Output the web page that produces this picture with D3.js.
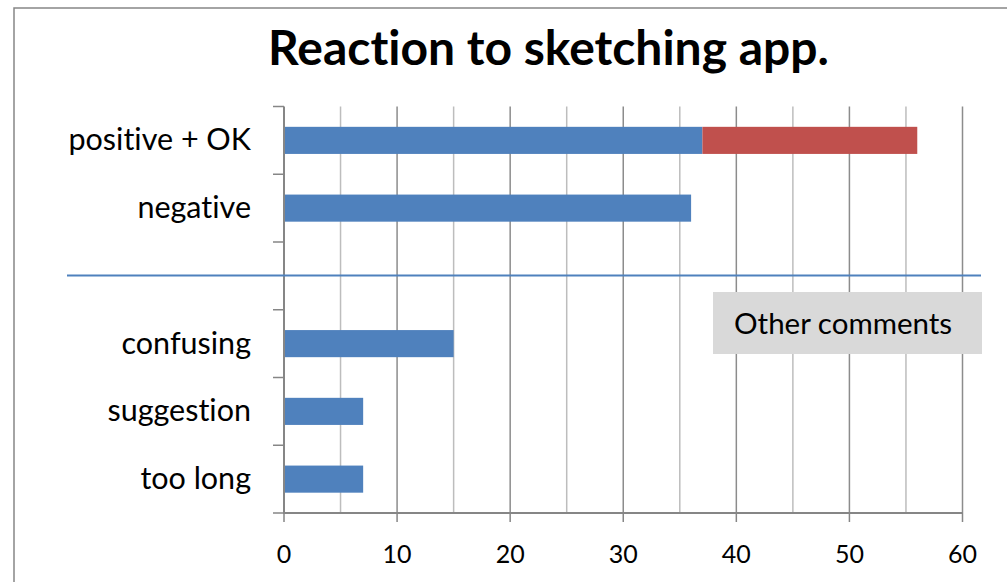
<!DOCTYPE html>
<html>
<head>
<meta charset="utf-8">
<script src="https://cdn.jsdelivr.net/npm/d3@7"></script>
<style>
  html, body { margin: 0; padding: 0; background: #fff; }
  svg { display: block; }
  text { font-family: Lato, "Open Sans", sans-serif; fill: #000; font-variant-ligatures: none; font-feature-settings: "liga" 0, "clig" 0; }
</style>
</head>
<body>
<svg id="chart" width="1007" height="582"></svg>
<script>
const title = "Reaction to sketching app.";
const categories = ["positive + OK", "negative", "", "confusing", "suggestion", "too long"];
const seriesBlue = [37, 36, 0, 15, 7, 7];
const seriesRed = [19, 0, 0, 0, 0, 0];
const xTicks = [0, 10, 20, 30, 40, 50, 60];
const gridValues = [5, 10, 15, 20, 25, 30, 35, 40, 45, 50, 55, 60];
const annotation = "Other comments";

const svg = d3.select("#chart");
const m = { left: 284, right: 962.5, top: 106.5, bottom: 513 };

// outer frame
svg.append("rect").attr("x", 14).attr("y", 8).attr("width", 1020).attr("height", 600)
  .attr("fill", "#fff").attr("stroke", "#868686").attr("stroke-width", 1.5);

const x = d3.scaleLinear().domain([0, 60]).range([m.left, m.right]);
const y = d3.scaleBand().domain(categories.map((c, i) => i)).range([m.top, m.bottom]);

// gridlines
svg.append("g").selectAll("line").data(gridValues).join("line")
  .attr("x1", d => x(d)).attr("x2", d => x(d))
  .attr("y1", m.top).attr("y2", m.bottom)
  .attr("stroke", d => d % 10 === 0 ? "#8c8c8c" : "#bdbdbd")
  .attr("stroke-width", 1.5);

// bars
const barH = y.bandwidth() * 0.4;
const bars = svg.append("g");
bars.selectAll("rect.blue").data(seriesBlue).join("rect").attr("class", "blue")
  .attr("x", x(0)).attr("y", (d, i) => y(i) + (y.bandwidth() - barH) / 2)
  .attr("width", d => x(d) - x(0)).attr("height", barH)
  .attr("fill", "#4f81bd");
bars.selectAll("rect.red").data(seriesRed).join("rect").attr("class", "red")
  .attr("x", (d, i) => x(seriesBlue[i])).attr("y", (d, i) => y(i) + (y.bandwidth() - barH) / 2)
  .attr("width", (d, i) => x(seriesBlue[i] + d) - x(seriesBlue[i])).attr("height", barH)
  .attr("fill", "#c0504d");

// y axis
const yTickPos = d3.range(categories.length + 1).map(i => m.top + i * y.step());
const ya = svg.append("g");
ya.append("line").attr("x1", m.left).attr("x2", m.left).attr("y1", m.top).attr("y2", m.bottom)
  .attr("stroke", "#868686").attr("stroke-width", 2);
ya.selectAll("line.t").data(yTickPos).join("line").attr("class", "t")
  .attr("x1", m.left - 11).attr("x2", m.left).attr("y1", d => d).attr("y2", d => d)
  .attr("stroke", "#868686").attr("stroke-width", 1.5);
ya.selectAll("text").data(categories).join("text")
  .attr("x", 251).attr("y", (d, i) => y(i) + y.bandwidth() / 2 + 10)
  .attr("text-anchor", "end").attr("font-size", 30.5).text(d => d);

// x axis
const xa = svg.append("g");
xa.append("line").attr("x1", m.left - 1).attr("x2", m.right).attr("y1", m.bottom).attr("y2", m.bottom)
  .attr("stroke", "#868686").attr("stroke-width", 2);
xa.selectAll("line.t").data(xTicks).join("line").attr("class", "t")
  .attr("x1", d => x(d)).attr("x2", d => x(d)).attr("y1", m.bottom).attr("y2", m.bottom + 9)
  .attr("stroke", "#868686").attr("stroke-width", 1.5);
xa.selectAll("text").data(xTicks).join("text")
  .attr("x", d => x(d)).attr("y", 563)
  .attr("text-anchor", "middle").attr("font-size", 25).text(d => d);

// separator line
svg.append("line").attr("x1", 67).attr("x2", 981).attr("y1", 275.5).attr("y2", 275.5)
  .attr("stroke", "#4f81bd").attr("stroke-width", 2);

// annotation box
svg.append("rect").attr("x", 713).attr("y", 292).attr("width", 269).attr("height", 62)
  .attr("fill", "#d9d9d9");
svg.append("text").attr("x", 734).attr("y", 334).attr("font-size", 29.5).text(annotation);

// title
svg.append("text").attr("x", 548.5).attr("y", 65).attr("text-anchor", "middle")
  .attr("font-size", 48).attr("font-weight", "bold").text(title);
</script>
</body>
</html>
